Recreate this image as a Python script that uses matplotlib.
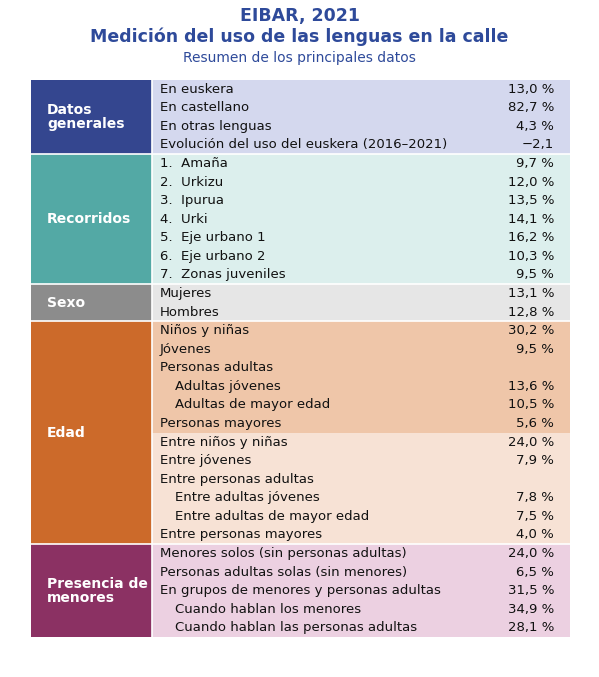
import matplotlib
matplotlib.use("Agg")
import matplotlib.pyplot as plt
from matplotlib.patches import Rectangle

groups = ["Datos\ngenerales", "Recorridos", "Sexo", "Edad", "Presencia de\nmenores"]
labels = [
    ["En euskera", "En castellano", "En otras lenguas", "Evolución del uso del euskera (2016–2021)"],
    ["1.  Amaña", "2.  Urkizu", "3.  Ipurua", "4.  Urki", "5.  Eje urbano 1", "6.  Eje urbano 2", "7.  Zonas juveniles"],
    ["Mujeres", "Hombres"],
    ["Niños y niñas", "Jóvenes", "Personas adultas", "Adultas jóvenes", "Adultas de mayor edad", "Personas mayores",
     "Entre niños y niñas", "Entre jóvenes", "Entre personas adultas", "Entre adultas jóvenes", "Entre adultas de mayor edad", "Entre personas mayores"],
    ["Menores solos (sin personas adultas)", "Personas adultas solas (sin menores)", "En grupos de menores y personas adultas",
     "Cuando hablan los menores", "Cuando hablan las personas adultas"],
]
values = [
    ["13,0 %", "82,7 %", "4,3 %", "−2,1"],
    ["9,7 %", "12,0 %", "13,5 %", "14,1 %", "16,2 %", "10,3 %", "9,5 %"],
    ["13,1 %", "12,8 %"],
    ["30,2 %", "9,5 %", "", "13,6 %", "10,5 %", "5,6 %", "24,0 %", "7,9 %", "", "7,8 %", "7,5 %", "4,0 %"],
    ["24,0 %", "6,5 %", "31,5 %", "34,9 %", "28,1 %"],
]
indented = [[], [], [], [3, 4, 9, 10], [3, 4]]
dark = ["#34468f", "#53a9a5", "#8c8c8c", "#cc6a2a", "#8b3163"]
light = [["#d4d8ee"], ["#dcefed"], ["#e6e6e6"], ["#efc6a9"] * 6 + ["#f7e2d5"] * 6, ["#ecd0e1"]]

fig = plt.figure(figsize=(5.99, 6.77), dpi=100)
ax = fig.add_axes([0, 0, 1, 1])
ax.set_xlim(0, 599); ax.set_ylim(677, 0); ax.axis("off")
blue = "#2e4a9a"
ax.text(299.5, 16, "EIBAR, 2021", ha="center", va="center", fontsize=12.5, fontweight="bold", color=blue)
ax.text(299.5, 37, "Medición del uso de las lenguas en la calle", ha="center", va="center", fontsize=12.5, fontweight="bold", color=blue)
ax.text(299.5, 58, "Resumen de los principales datos", ha="center", va="center", fontsize=10, color=blue)

top = 80.0; rh = 18.57
x0, x1, x2 = 31, 152, 570
y = top
for g in range(len(groups)):
    n = len(labels[g])
    ax.add_patch(Rectangle((x0, y), x1 - x0, n * rh, color=dark[g], lw=0))
    ax.text(47, y + n * rh / 2, groups[g], ha="left", va="center", fontsize=10, fontweight="bold", color="white", linespacing=1.0)
    for i in range(n):
        col = light[g][i] if len(light[g]) > 1 else light[g][0]
        ax.add_patch(Rectangle((x1, y + i * rh), x2 - x1, rh, color=col, lw=0))
        xi = 175 if i in indented[g] else 160
        ax.text(xi, y + (i + 0.5) * rh, labels[g][i], ha="left", va="center", fontsize=9.5, color="#111111")
        ax.text(554, y + (i + 0.5) * rh, values[g][i], ha="right", va="center", fontsize=9.5, color="#111111")
    y += n * rh
    if g < len(groups) - 1:
        ax.plot([x0, x2], [y, y], color="white", lw=1.2)
ax.plot([x1, x1], [top, y], color="white", lw=1.2)
fig.savefig("out.png", dpi=100)
